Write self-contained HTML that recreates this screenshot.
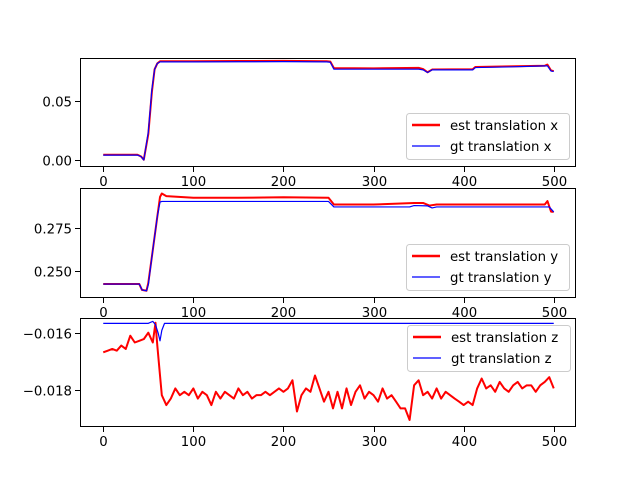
<!DOCTYPE html>
<html><head><meta charset="utf-8"><style>
html,body{margin:0;padding:0;background:#fff;}
svg{display:block;font-family:"DejaVu Sans","Liberation Sans",sans-serif;}
</style></head><body>
<svg id="chart" width="640" height="480" viewBox="0 0 640 480"></svg>
<script>
// ----- data -----
const xTicks = [0,100,200,300,400,500];
const xEst1 = [0,38,42,45,50,54,57,60,63,66,100,150,200,248,252,256,300,350,355,360,365,410,413,450,490,493,497,500];
const estX =  [0.0045,0.0045,0.003,0.0003,0.022,0.058,0.077,0.082,0.0838,0.0838,0.0838,0.0840,0.0842,0.0838,0.0835,0.0780,0.0778,0.0782,0.0772,0.0745,0.0768,0.0770,0.0790,0.0795,0.0800,0.0810,0.0760,0.0755];
const gtX =   [0.0042,0.0042,0.003,0.0000,0.0237,0.060,0.077,0.082,0.0833,0.0833,0.0833,0.0834,0.0835,0.0833,0.0830,0.0771,0.0771,0.0771,0.0765,0.0743,0.0765,0.0765,0.0785,0.0790,0.0799,0.0799,0.0755,0.0752];
const yTicks1 = [0.00,0.05];
const yLabels1 = ["0.00","0.05"];

const xEst2 = [0,40,43,48,50,55,60,63,65,70,100,150,200,250,256,300,345,355,362,370,490,493,497,500];
const estY =  [0.2424,0.2424,0.2390,0.2385,0.2430,0.2622,0.2816,0.2930,0.2950,0.2935,0.2925,0.2925,0.2928,0.2925,0.2886,0.2886,0.2895,0.2895,0.2880,0.2886,0.2886,0.2906,0.2845,0.2843];
const xGt2 =  [0,40,43,48,50,55,60,63,65,70,100,150,200,250,256,300,340,345,360,365,370,490,495,500];
const gtY =   [0.2424,0.2424,0.2390,0.2385,0.2420,0.2622,0.2816,0.2900,0.2904,0.2904,0.2904,0.2904,0.2904,0.2904,0.2872,0.2872,0.2872,0.2880,0.2878,0.2866,0.2872,0.2872,0.2872,0.2843];
const yTicks2 = [0.250,0.275];
const yLabels2 = ["0.250","0.275"];

const xEst3 = [0,5,10,15,20,25,30,35,40,45,50,55,58,60,63,65,70,75,80,85,90,95,100,105,110,115,120,125,130,135,140,145,150,155,160,165,170,175,180,185,190,195,200,205,210,215,220,225,230,235,240,245,250,255,260,265,270,275,280,285,290,295,300,305,310,315,320,325,330,335,340,345,350,355,360,365,370,375,380,385,390,395,400,405,410,415,420,425,430,435,440,445,450,455,460,465,470,475,480,485,490,495,500];
const estZ = [-0.01668,-0.01662,-0.01656,-0.01662,-0.01644,-0.01656,-0.01609,-0.01633,-0.01627,-0.01621,-0.01598,-0.01633,-0.01563,-0.01644,-0.01750,-0.01820,-0.01855,-0.01832,-0.01796,-0.01820,-0.01808,-0.01820,-0.01796,-0.01832,-0.01808,-0.01820,-0.01855,-0.01808,-0.01832,-0.01808,-0.01820,-0.01832,-0.01796,-0.01820,-0.01808,-0.01832,-0.01820,-0.01820,-0.01808,-0.01820,-0.01808,-0.01796,-0.01808,-0.01796,-0.01767,-0.01878,-0.01820,-0.01796,-0.01808,-0.01750,-0.01796,-0.01843,-0.01808,-0.01867,-0.01808,-0.01867,-0.01796,-0.01855,-0.01808,-0.01785,-0.01832,-0.01808,-0.01820,-0.01843,-0.01796,-0.01832,-0.01820,-0.01843,-0.01867,-0.01867,-0.01908,-0.01785,-0.01767,-0.01820,-0.01808,-0.01832,-0.01796,-0.01832,-0.01808,-0.01820,-0.01832,-0.01843,-0.01855,-0.01843,-0.01855,-0.01796,-0.01761,-0.01796,-0.01785,-0.01808,-0.01773,-0.01796,-0.01808,-0.01785,-0.01773,-0.01796,-0.01785,-0.01785,-0.01808,-0.01785,-0.01773,-0.01756,-0.01796];
const xGt3 = [0,50,55,58,61,63,65,68,500];
const gtZ =  [-0.01565,-0.01565,-0.01558,-0.01570,-0.01600,-0.01627,-0.01590,-0.01565,-0.01565];
const yTicks3 = [-0.018,-0.016];
const yLabels3 = ["\u22120.018","\u22120.016"];

// ----- layout -----
const X0 = 80, X1 = 576, XMIN = -25.8, XMAX = 524.7;
const panels = [
  {top:58, bot:167, ymin:-0.0059, ymax:0.0866, xe:xEst1, ye:estX, xg:xEst1, yg:gtX, ticks:yTicks1, labels:yLabels1, name:'x', leg:[406,113]},
  {top:188, bot:298, ymin:0.2343, ymax:0.2982, xe:xEst2, ye:estY, xg:xGt2, yg:gtY, ticks:yTicks2, labels:yLabels2, name:'y', leg:[406,244]},
  {top:318, bot:427, ymin:-0.01933, ymax:-0.01546, xe:xEst3, ye:estZ, xg:xGt3, yg:gtZ, ticks:yTicks3, labels:yLabels3, name:'z', leg:[407,325]}
];
const NS = 'http://www.w3.org/2000/svg';
const svg = document.getElementById('chart');
function mk(tag, attrs, parent){
  const e = document.createElementNS(NS, tag);
  for (const k in attrs) e.setAttribute(k, attrs[k]);
  (parent||svg).appendChild(e);
  return e;
}
function sx(v){ return X0 + (v - XMIN) / (XMAX - XMIN) * (X1 - X0); }

panels.forEach((p, i) => {
  const sy = v => p.bot - (v - p.ymin) / (p.ymax - p.ymin) * (p.bot - p.top);
  const g = mk('g', {});
  
  
  const clipId = 'clip' + i;
  const cp = mk('clipPath', {id: clipId}, g);
  mk('rect', {x:X0, y:p.top, width:X1-X0, height:p.bot-p.top}, cp);
  const pts = (xs, ys) => xs.map((x, j) => sx(x).toFixed(2) + ',' + sy(ys[j]).toFixed(2)).join(' ');
  const est = mk('polyline', {points: pts(p.xe, p.ye), fill:'none', stroke:'#ff0000', 'stroke-width':2, 'stroke-linejoin':'round', 'clip-path':'url(#'+clipId+')'}, g);
  
  
  const gt = mk('polyline', {points: pts(p.xg, p.yg), fill:'none', stroke:'#0000ff', 'stroke-width':1.2, 'stroke-linejoin':'round', 'clip-path':'url(#'+clipId+')'}, g);
  
  
  const frame = mk('rect', {x:X0+0.5, y:p.top+0.5, width:X1-X0-1, height:p.bot-p.top-1, fill:'none', stroke:'#000', 'stroke-width':1}, g);
  
  
  xTicks.forEach(t => {
    const x = Math.round(sx(t)) + 0.5;
    const tk = mk('line', {x1:x, x2:x, y1:p.bot, y2:p.bot+5, stroke:'#000', 'stroke-width':1}, g);
    
    
    const tl = mk('text', {x:x, y:p.bot+19, 'font-size':13.3, 'text-anchor':'middle', fill:'#000'}, g);
    
    
    tl.textContent = String(t);
  });
  p.ticks.forEach((t, j) => {
    const y = Math.round(sy(t)) + 0.5;
    const tk = mk('line', {x1:X0-5, x2:X0, y1:y, y2:y, stroke:'#000', 'stroke-width':1}, g);
    
    
    const tl = mk('text', {x:X0-8, y:y+5, 'font-size':13.3, 'text-anchor':'end', fill:'#000'}, g);
    
    
    tl.textContent = p.labels[j];
  });
  const [lx, ly] = p.leg;
  const lg = mk('g', {}, g);
  
  
  mk('rect', {x:lx+0.5, y:ly+0.5, width:163, height:46, rx:3, fill:'#fff', 'fill-opacity':0.8, stroke:'#ccc', 'stroke-width':1}, lg);
  const l1 = mk('line', {x1:lx+6, x2:lx+34, y1:ly+12, y2:ly+12, stroke:'#ff0000', 'stroke-width':2.5}, lg);
  
  
  const t1 = mk('text', {x:lx+44, y:ly+17, 'font-size':13.3, fill:'#000'}, lg);
  
  
  t1.textContent = 'est translation ' + p.name;
  const l2 = mk('line', {x1:lx+6, x2:lx+34, y1:ly+33, y2:ly+33, stroke:'#0000ff', 'stroke-width':1.3}, lg);
  
  
  const t2 = mk('text', {x:lx+44, y:ly+38, 'font-size':13.3, fill:'#000'}, lg);
  
  
  t2.textContent = 'gt translation ' + p.name;
});
</script>
</body></html>
